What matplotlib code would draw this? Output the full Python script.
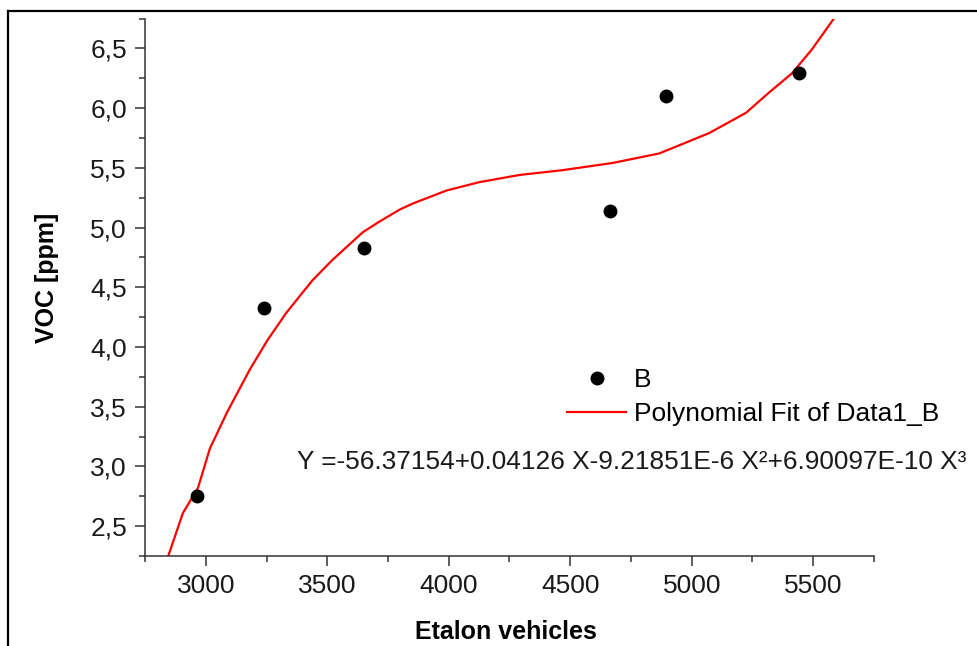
import matplotlib
matplotlib.use("Agg")
import matplotlib.pyplot as plt
from matplotlib.lines import Line2D
from matplotlib.ticker import MultipleLocator, FuncFormatter

plt.rcParams["font.family"] = ["Liberation Sans", "DejaVu Sans"]

# measured points (series B)
vehicles = [2964, 3240, 3650, 4665, 4895, 5440]
voc = [2.75, 4.33, 4.83, 5.14, 6.10, 6.29]

# polynomial fit curve
fit_x = [2844, 2906, 2968, 3017, 3087, 3181, 3255, 3333, 3440, 3522, 3646,
         3715, 3798, 3851, 3991, 4126, 4291, 4467, 4673, 4866, 5071, 5223,
         5318, 5412, 5494, 5585]
fit_y = [2.24, 2.61, 2.82, 3.15, 3.45, 3.81, 4.06, 4.29, 4.56, 4.73, 4.96,
         5.05, 5.15, 5.20, 5.31, 5.38, 5.44, 5.48, 5.54, 5.62, 5.79, 5.96,
         6.13, 6.29, 6.49, 6.75]

equation = "Y =-56.37154+0.04126 X-9.21851E-6 X\u00b2+6.90097E-10 X\u00b3"

W, H = 977, 646
fig = plt.figure(figsize=(W / 100, H / 100), dpi=100)
ax = fig.add_axes([145 / W, (H - 556) / H, (874 - 145) / W, (556 - 18.5) / H])

ax.plot(vehicles, voc, "o", color="black", ms=9, label="B", zorder=3)
ax.plot(fit_x, fit_y, color="#ff0000", lw=1.6, label="Polynomial Fit of Data1_B")

ax.set_xlim(2750, 5750)
ax.set_ylim(2.25, 6.75)
ax.xaxis.set_major_locator(MultipleLocator(500))
ax.xaxis.set_minor_locator(MultipleLocator(250))
ax.yaxis.set_major_locator(MultipleLocator(0.5))
ax.yaxis.set_minor_locator(MultipleLocator(0.25))
ax.yaxis.set_major_formatter(FuncFormatter(lambda v, p: f"{v:.1f}".replace(".", ",")))

for s in ["top", "right"]:
    ax.spines[s].set_visible(False)
for s in ["left", "bottom"]:
    ax.spines[s].set_color("#333333")
    ax.spines[s].set_linewidth(1.1)

ax.tick_params(which="major", length=7, width=1.1, color="#333333",
               labelsize=19, labelcolor="#1a1a1a", pad=6)
ax.tick_params(which="minor", length=4, width=1.1, color="#333333")

ax.set_xlabel("Etalon vehicles", fontsize=18, fontweight="bold", va="center")
ax.xaxis.set_label_coords(0.495, -0.141)
ax.set_ylabel("VOC [ppm]", fontsize=18, fontweight="bold", va="center")
ax.yaxis.set_label_coords(-0.134, 0.517)

ax.legend(loc="upper left", bbox_to_anchor=(567 / W, 1 - 368 / H),
          bbox_transform=fig.transFigure, frameon=False, fontsize=19,
          handlelength=2.25, handletextpad=0.3, labelspacing=0.38,
          borderpad=0, borderaxespad=0)

fig.text(297 / W, 1 - 462 / H, equation, fontsize=18.9, va="center",
         ha="left", color="#1a1a1a")

# outer frame (cut off on the right and bottom)
fig.add_artist(Line2D([8 / W, 8 / W], [0, 1 - 11 / H], transform=fig.transFigure,
                      color="black", lw=1.6))
fig.add_artist(Line2D([8 / W, 1], [1 - 11 / H, 1 - 11 / H], transform=fig.transFigure,
                      color="black", lw=1.6))

fig.savefig("out.png", dpi=100)
